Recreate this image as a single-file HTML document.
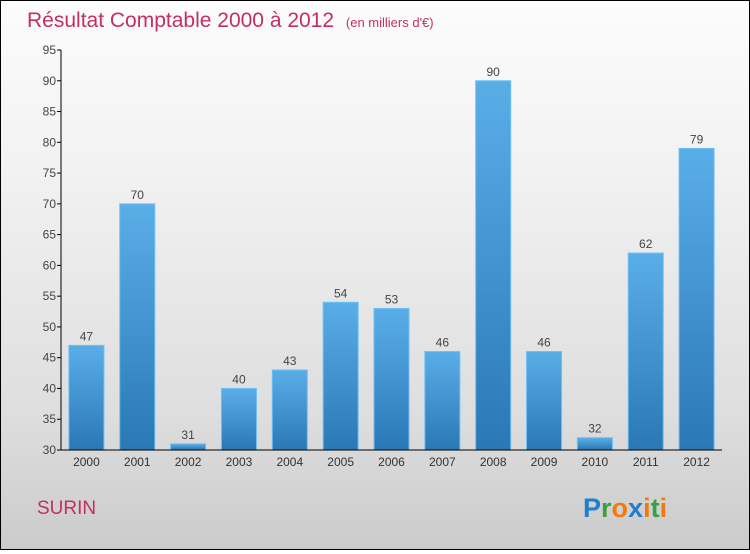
<!DOCTYPE html>
<html><head><meta charset="utf-8"><style>
body{margin:0;width:750px;height:550px;overflow:hidden}
#c{position:relative;width:748px;height:548px;border:1px solid #000;background:linear-gradient(#fcfcfc,#f2f2f2 30%,#dedede 75%,#cbcbcb);font-family:"Liberation Sans",sans-serif}
</style></head><body>
<div id="c">
<svg width="748" height="548">
<defs><linearGradient id="bg" x1="0" y1="0" x2="0" y2="1"><stop offset="0" stop-color="#5aaee8"/><stop offset="1" stop-color="#2a78b6"/></linearGradient></defs>
<text x="26" y="26" font-size="21" fill="#c4305e">Résultat Comptable 2000 à 2012 <tspan font-size="13" dx="6">(en milliers d'€)</tspan></text>
<g id="plot"></g>
<text x="36" y="513" font-size="19" fill="#c4305e">SURIN</text>
<text x="582" y="516" font-size="27" font-weight="bold"><tspan fill="#1e7fd0">P</tspan><tspan fill="#3aa040">r</tspan><tspan fill="#f07a10">o</tspan><tspan fill="#1e7fd0">x</tspan><tspan fill="#f07a10">i</tspan><tspan fill="#3aa040">t</tspan><tspan fill="#f07a10">i</tspan></text>
</svg></div>
<script>
const categories=["2000","2001","2002","2003","2004","2005","2006","2007","2008","2009","2010","2011","2012"];
const values=[47,70,31,40,43,54,53,46,90,46,32,62,79];
const ticks=[30,35,40,45,50,55,60,65,70,75,80,85,90,95];
const NS="http://www.w3.org/2000/svg",g=document.getElementById('plot');
const x0=60,x1=721,yMin=30,yMax=95,py0=449,py1=49;
const y=v=>py0-(v-yMin)/(yMax-yMin)*(py0-py1);
const slot=(x1-x0)/categories.length;
const xc=i=>x0+slot*(i+0.5);
function mk(t,a){const e=document.createElementNS(NS,t);for(const k in a)e.setAttribute(k,a[k]);g.appendChild(e);return e;}
ticks.forEach(t=>{
 const l=mk('line',{x1:x0-4,x2:x0,y1:y(t),y2:y(t),stroke:'#000'});
 
 
 const tx=mk('text',{x:x0-5,y:y(t)+4,'font-size':12,fill:'#444','text-anchor':'end'});tx.textContent=t;
 
 
});
values.forEach((v,i)=>{
 const r=mk('rect',{x:xc(i)-17.5,y:y(v),width:35,height:py0-y(v),fill:'url(#bg)',stroke:'#6cc0f5','stroke-width':1});
 
 
 const t=mk('text',{x:xc(i),y:y(v)-5,'font-size':12,fill:'#444','text-anchor':'middle'});t.textContent=v;
 
 
 const c=mk('text',{x:xc(i),y:py0+16,'font-size':12,fill:'#333','text-anchor':'middle'});c.textContent=categories[i];
 
 
});
const ya=mk('line',{x1:x0,x2:x0,y1:py1,y2:py0,stroke:'#000'});


const xa=mk('line',{x1:x0,x2:x1,y1:py0,y2:py0,stroke:'#000'});


</script>
</body></html>
